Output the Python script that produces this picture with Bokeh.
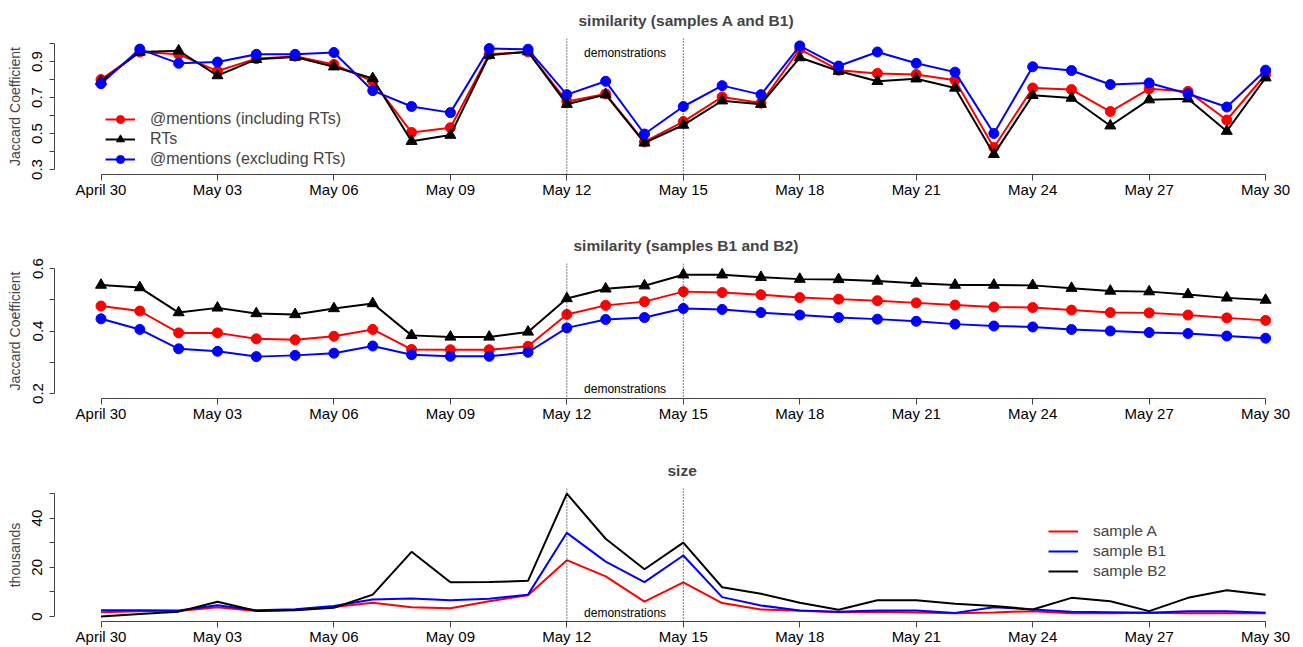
from bokeh.plotting import figure
from bokeh.layouts import column
from bokeh.models import FixedTicker, Span, Legend, LegendItem, Range1d
from bokeh.core.properties import value
from bokeh.embed import file_html
from bokeh.resources import INLINE

# ---------------- data ----------------
day_index = list(range(31))  # April 30 .. May 30
tick_days = [0, 3, 6, 9, 12, 15, 18, 21, 24, 27, 30]
tick_labels = ["April 30", "May 03", "May 06", "May 09", "May 12", "May 15",
               "May 18", "May 21", "May 24", "May 27", "May 30"]
demo_days = [12, 15]

# similarity (samples A and B1)
ab1_mentions_incl = [0.80, 0.953, 0.94, 0.847, 0.916, 0.93, 0.884, 0.79, 0.506, 0.532, 0.94,
                     0.953, 0.678, 0.72, 0.453, 0.566, 0.703, 0.669, 0.969, 0.852, 0.834,
                     0.828, 0.796, 0.422, 0.753, 0.744, 0.622, 0.748, 0.734, 0.575, 0.828]
ab1_rts = [0.79, 0.953, 0.96, 0.822, 0.912, 0.925, 0.871, 0.806, 0.457, 0.491, 0.935,
           0.955, 0.663, 0.716, 0.448, 0.547, 0.682, 0.663, 0.922, 0.847, 0.79,
           0.804, 0.753, 0.384, 0.712, 0.697, 0.543, 0.688, 0.693, 0.513, 0.81]
ab1_mentions_excl = [0.777, 0.969, 0.89, 0.897, 0.94, 0.94, 0.95, 0.738, 0.65, 0.616, 0.972,
                     0.968, 0.716, 0.79, 0.497, 0.65, 0.766, 0.716, 0.987, 0.875, 0.953,
                     0.89, 0.841, 0.50, 0.871, 0.85, 0.772, 0.781, 0.721, 0.647, 0.852]

# similarity (samples B1 and B2)
b1b2_mentions_incl = [0.48, 0.464, 0.394, 0.394, 0.375, 0.372, 0.383, 0.405, 0.341, 0.34, 0.34,
                      0.351, 0.453, 0.482, 0.494, 0.526, 0.523, 0.516, 0.507, 0.502, 0.497,
                      0.49, 0.483, 0.477, 0.475, 0.467, 0.459, 0.458, 0.451, 0.442, 0.434]
b1b2_rts = [0.547, 0.539, 0.459, 0.474, 0.456, 0.453, 0.472, 0.488, 0.386, 0.381, 0.381,
            0.397, 0.504, 0.535, 0.545, 0.58, 0.58, 0.572, 0.566, 0.565, 0.56,
            0.553, 0.547, 0.547, 0.546, 0.537, 0.528, 0.526, 0.517, 0.506, 0.499]
b1b2_mentions_excl = [0.439, 0.405, 0.343, 0.335, 0.318, 0.322, 0.329, 0.352, 0.324, 0.319, 0.319,
                      0.332, 0.41, 0.437, 0.443, 0.472, 0.469, 0.459, 0.451, 0.443, 0.438,
                      0.431, 0.422, 0.416, 0.413, 0.405, 0.4, 0.395, 0.392, 0.384, 0.377]

# size (thousands)
size_A = [1.8, 2.2, 2.3, 3.8, 2.3, 2.8, 3.9, 5.6, 3.8, 3.4, 6.2, 8.7, 22.9, 16.3, 6.1, 13.9,
          5.5, 2.9, 2.4, 1.8, 2.0, 1.7, 1.3, 1.7, 2.2, 1.3, 1.3, 1.6, 1.3, 1.3, 1.3]
size_B1 = [2.6, 2.6, 2.5, 4.6, 2.6, 3.0, 4.3, 6.9, 7.3, 6.6, 7.2, 8.9, 34.0, 22.3, 14.0, 24.8,
           7.9, 4.5, 2.5, 2.0, 2.5, 2.5, 1.5, 3.8, 2.9, 2.0, 1.8, 1.6, 2.2, 2.2, 1.6]
size_B2 = [0.0, 1.0, 2.0, 6.0, 2.3, 2.6, 3.6, 8.9, 26.3, 13.9, 14.0, 14.5, 49.9, 31.6, 19.2, 30.0,
           11.9, 9.3, 5.6, 2.8, 6.6, 6.6, 5.2, 4.3, 2.9, 7.6, 6.2, 2.2, 7.6, 10.7, 8.9]

# ---------------- styling ----------------
FONT = "Liberation Sans"
W = 1300
LEFT = 54
X0 = -1.198
X1 = X0 + (W - LEFT) / 38.82
RED, BLUE, BLACK = "#FF0000", "#0000FF", "#000000"


def make_fig(height, yr, ybounds, major, minor, border_top, border_bottom,
             title, title_offset, ylabel):
    p = figure(width=W, height=height, output_backend="svg", toolbar_location=None,
               x_range=Range1d(X0, X1), y_range=Range1d(*yr),
               min_border_left=LEFT, min_border_right=0,
               min_border_top=border_top, min_border_bottom=border_bottom)
    p.outline_line_color = None
    p.grid.visible = False
    p.title.text = title
    p.title.text_font = FONT
    p.title.text_font_size = "15.5px"
    p.title.text_font_style = "bold"
    p.title.align = "left"
    p.title.offset = title_offset
    p.title.standoff = 19

    xa = p.xaxis[0]
    xa.ticker = FixedTicker(ticks=tick_days, minor_ticks=[])
    xa.major_label_overrides = {d: l for d, l in zip(tick_days, tick_labels)}
    xa.bounds = (tick_days[0], tick_days[-1])
    xa.major_tick_out = 6
    xa.major_tick_in = 0
    xa.minor_tick_out = 0
    xa.minor_tick_in = 0
    xa.major_label_standoff = 0
    xa.major_label_text_font = FONT
    xa.major_label_text_font_size = "15px"
    xa.major_label_text_color = "black"
    xa.axis_line_color = "#444444"
    xa.major_tick_line_color = "#444444"

    ya = p.yaxis[0]
    ya.ticker = FixedTicker(ticks=major, minor_ticks=minor)
    ya.bounds = ybounds
    ya.major_tick_out = 5
    ya.major_tick_in = 0
    ya.minor_tick_out = 5
    ya.minor_tick_in = 0
    ya.major_label_orientation = "vertical"
    ya.major_label_standoff = 7
    ya.major_label_text_font = FONT
    ya.major_label_text_font_size = "15px"
    ya.major_label_text_color = "black"
    ya.axis_label = ylabel
    ya.axis_label_text_font = FONT
    ya.axis_label_text_font_size = "14px"
    ya.axis_label_text_font_style = "normal"
    ya.axis_label_standoff = 7
    ya.axis_line_color = "#444444"
    ya.major_tick_line_color = "#444444"
    ya.minor_tick_line_color = "#444444"

    for d in demo_days:
        p.add_layout(Span(location=d, dimension="height", line_color="black",
                          line_width=1, line_dash="1 2"))
    return p


def demo_text(p, y):
    p.text(x=[(demo_days[0] + demo_days[1]) / 2], y=[y], text=["demonstrations"],
           text_font=value(FONT), text_font_size="12px", text_align="center",
           text_baseline="middle", text_color="black")


# ---------- panel 1 ----------
p1 = make_fig(225, (0.272, 1.028), (0.3, 1.0), [0.3, 0.5, 0.7, 0.9], [0.4, 0.6, 0.8, 1.0],
              38, 51, "similarity (samples A and B1)", 524, "Jaccard Coefficient")
demo_text(p1, 0.95)
r1l = p1.line(day_index, ab1_mentions_incl, line_color=RED, line_width=2)
r1p = p1.scatter(day_index, ab1_mentions_incl, marker="circle", size=10, color=RED)
k1l = p1.line(day_index, ab1_rts, line_color=BLACK, line_width=2)
k1p = p1.scatter(day_index, ab1_rts, marker="triangle", size=11, color=BLACK)
b1l = p1.line(day_index, ab1_mentions_excl, line_color=BLUE, line_width=2)
b1p = p1.scatter(day_index, ab1_mentions_excl, marker="circle", size=10, color=BLUE)
leg1 = Legend(items=[LegendItem(label="@mentions (including RTs)", renderers=[r1l, r1p]),
                     LegendItem(label="RTs", renderers=[k1l, k1p]),
                     LegendItem(label="@mentions (excluding RTs)", renderers=[b1l, b1p])],
              location=(51, 5), padding=0, margin=0, spacing=0, border_line_color=None,
              background_fill_alpha=0, glyph_width=30, glyph_height=20, label_height=20,
              label_standoff=15, label_text_font=FONT, label_text_font_size="16px")
p1.add_layout(leg1)

# ---------- panel 2 ----------
p2 = make_fig(225, (0.184, 0.616), (0.2, 0.6), [0.2, 0.4, 0.6], [0.3, 0.5],
              38, 52, "similarity (samples B1 and B2)", 519, "Jaccard Coefficient")
demo_text(p2, 0.216)
p2.line(day_index, b1b2_mentions_incl, line_color=RED, line_width=2)
p2.scatter(day_index, b1b2_mentions_incl, marker="circle", size=10, color=RED)
p2.line(day_index, b1b2_rts, line_color=BLACK, line_width=2)
p2.scatter(day_index, b1b2_rts, marker="triangle", size=11, color=BLACK)
p2.line(day_index, b1b2_mentions_excl, line_color=BLUE, line_width=2)
p2.scatter(day_index, b1b2_mentions_excl, marker="circle", size=10, color=BLUE)

# ---------- panel 3 ----------
p3 = make_fig(197, (-2, 52), (0, 50), [0, 20, 40], [10, 30, 50],
              37, 25, "size", 613, "thousands")
demo_text(p3, 1.6)
sa = p3.line(day_index, size_A, line_color=RED, line_width=2)
sb1 = p3.line(day_index, size_B1, line_color=BLUE, line_width=2)
sb2 = p3.line(day_index, size_B2, line_color=BLACK, line_width=2)
leg3 = Legend(items=[LegendItem(label="sample A", renderers=[sa]),
                     LegendItem(label="sample B1", renderers=[sb1]),
                     LegendItem(label="sample B2", renderers=[sb2])],
              location=(994, 40), padding=0, margin=0, spacing=0, border_line_color=None,
              background_fill_alpha=0, glyph_width=30, glyph_height=20, label_height=20,
              label_standoff=15, label_text_font=FONT, label_text_font_size="15.5px")
p3.add_layout(leg3)

layout = column(p1, p2, p3, spacing=0)
open("out.html", "w").write(file_html(layout, INLINE))
